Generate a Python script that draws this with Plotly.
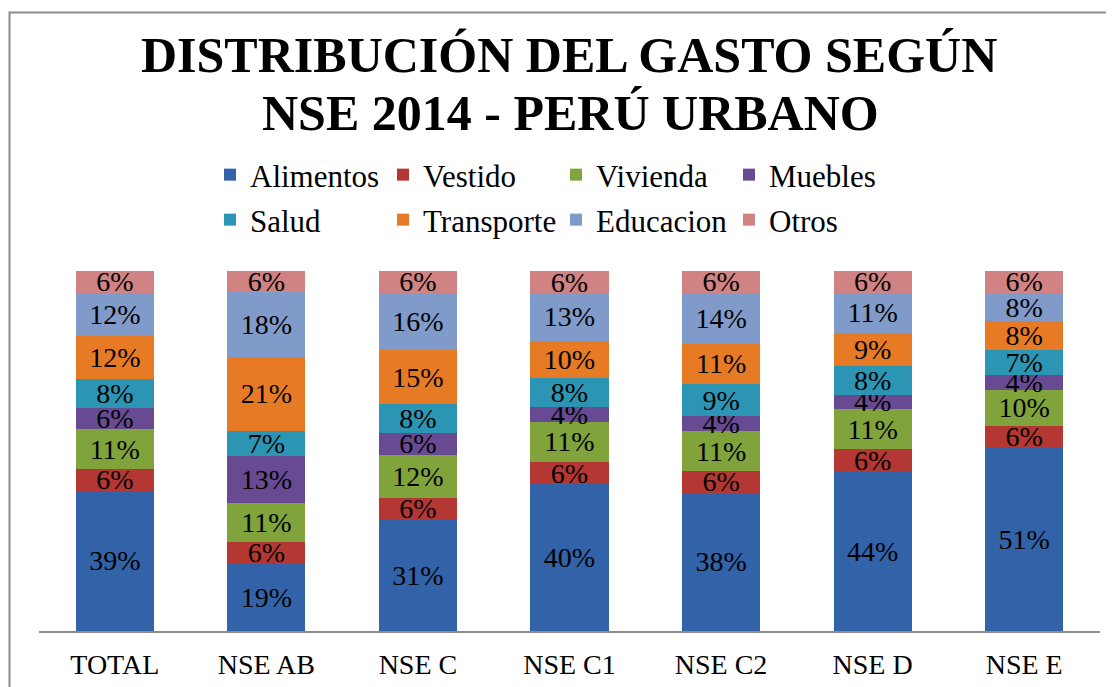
import plotly.graph_objects as go

categories = ["TOTAL", "NSE AB", "NSE C", "NSE C1", "NSE C2", "NSE D", "NSE E"]

alimentos = [39, 19, 31, 40, 38, 44, 51]
vestido = [6, 6, 6, 6, 6, 6, 6]
vivienda = [11, 11, 12, 11, 11, 11, 10]
muebles = [6, 13, 6, 4, 4, 4, 4]
salud = [8, 7, 8, 8, 9, 8, 7]
transporte = [12, 21, 15, 10, 11, 9, 8]
educacion = [12, 18, 16, 13, 14, 11, 8]
otros = [6, 6, 6, 6, 6, 6, 6]

series_names = ["Alimentos", "Vestido", "Vivienda", "Muebles",
                "Salud", "Transporte", "Educacion", "Otros"]
series_values = [alimentos, vestido, vivienda, muebles,
                 salud, transporte, educacion, otros]
series_colors = ["#3262A8", "#B43733", "#80A33C", "#674A92",
                 "#2C95B4", "#E77B25", "#809BCA", "#D08382"]

FONT = "Liberation Serif"
OFF = 8  # page body margin
W, H = 1114 - OFF, 687 - OFF
# plot area in page pixels: x 39..1100, y 271..631
ML = 39 - OFF
MR = W - (1100 - OFF)
MT = 271 - OFF
MB = H - (631 - OFF)
PW = W - ML - MR
PH = H - MT - MB


def px_x(p):
    return (p - OFF - ML) / PW


def px_y(p):
    return (H - MB - (p - OFF)) / PH


fig = go.Figure()
for i, (name, vals, col) in enumerate(zip(series_names, series_values, series_colors)):
    fig.add_trace(go.Bar(
        x=categories,
        y=vals,
        name=name,
        marker=dict(color=col, line=dict(width=0)),
        text=vals,
        texttemplate="%{text}%",
        textposition="inside",
        insidetextanchor="middle",
        constraintext="none",
        textangle=0,
        textfont=dict(family=FONT, size=28, color="black"),
        legend="legend" if i < 4 else "legend2",
    ))

legend_common = dict(
    orientation="h",
    xanchor="left",
    yanchor="middle",
    font=dict(family=FONT, size=31, color="black"),
    entrywidth=128,
    entrywidthmode="pixels",
    bgcolor="rgba(0,0,0,0)",
    borderwidth=0,
    itemwidth=30,
    traceorder="normal",
)

fig.update_layout(
    width=W,
    height=H,
    margin=dict(l=ML, r=MR, t=MT, b=MB, autoexpand=False),
    paper_bgcolor="white",
    plot_bgcolor="white",
    barmode="stack",
    barnorm="percent",
    bargap=0.485,
    showlegend=True,
    legend=dict(x=px_x(210), y=px_y(175), **legend_common),
    legend2=dict(x=px_x(210), y=px_y(220), **legend_common),
    xaxis=dict(
        showline=True,
        linecolor="#8C8C8C",
        linewidth=2,
        ticks="",
        showgrid=False,
        automargin=False,
        ticklabelstandoff=7,
        tickfont=dict(family=FONT, size=28, color="black"),
        fixedrange=True,
    ),
    yaxis=dict(
        range=[0, 100],
        visible=False,
        showgrid=False,
        zeroline=False,
        automargin=False,
        fixedrange=True,
    ),
    shapes=[
        dict(type="rect", xref="paper", yref="paper",
             x0=px_x(9.5), y0=px_y(720), x1=px_x(1130), y1=px_y(12.5),
             line=dict(color="#8C8C8C", width=2), fillcolor="rgba(0,0,0,0)",
             layer="below"),
    ],
    annotations=[
        dict(text="<b>DISTRIBUCIÓN DEL GASTO SEGÚN</b>", xref="paper", yref="paper",
             x=px_x(569), y=px_y(55), xanchor="center", yanchor="middle",
             showarrow=False, font=dict(family=FONT, size=50, color="black")),
        dict(text="<b>NSE 2014 - PERÚ URBANO</b>", xref="paper", yref="paper",
             x=px_x(570), y=px_y(113), xanchor="center", yanchor="middle",
             showarrow=False, font=dict(family=FONT, size=50, color="black")),
    ],
)

fig.write_html("out.html")
